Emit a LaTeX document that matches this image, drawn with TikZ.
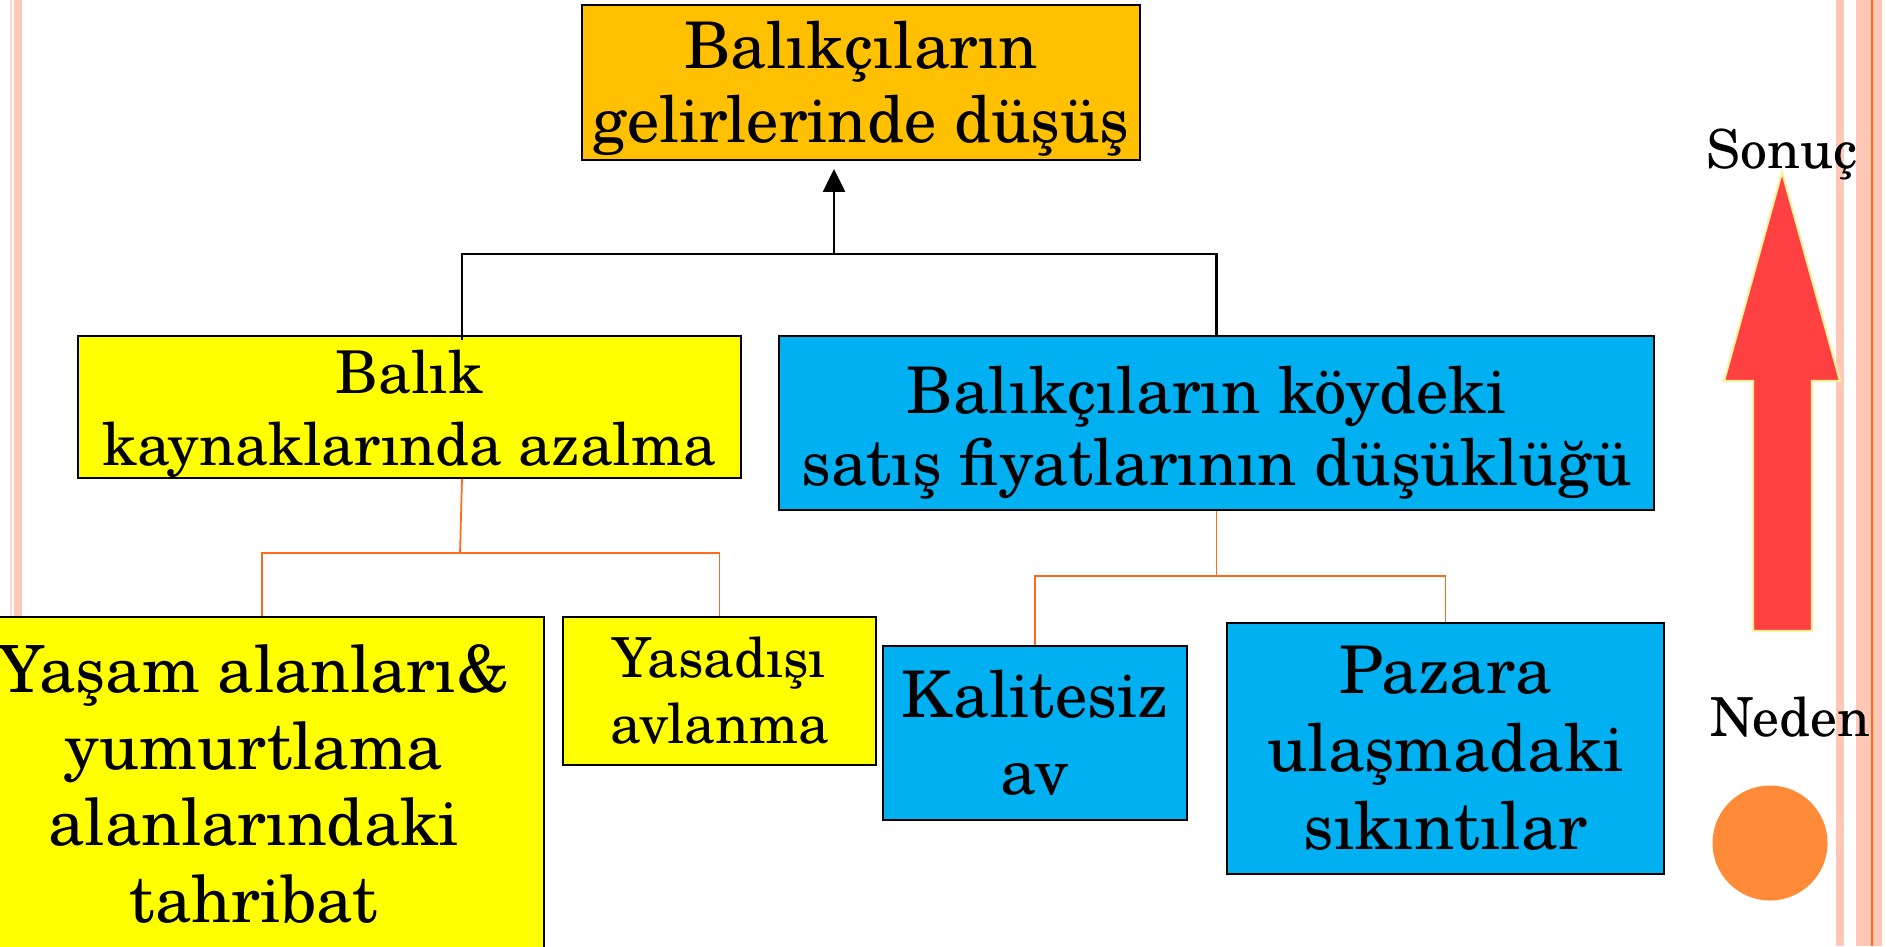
\documentclass[tikz,border=0pt]{standalone}
\usepackage{fontspec}
\setmainfont{TeX Gyre Schola}
\usepackage{tikz}
\usetikzlibrary{arrows.meta}

\definecolor{turuncu}{HTML}{FFC000}
\definecolor{sari}{HTML}{FFFF00}
\definecolor{mavi}{HTML}{00B0F0}
\definecolor{kiremit}{HTML}{FF6A1A}
\definecolor{somon}{HTML}{FFC8B6}
\definecolor{kirmizi}{HTML}{FF4040}
\definecolor{soluk}{HTML}{FFF0A0}
\definecolor{portakal}{HTML}{FF8A38}

% ilk satiri biraz asagi iter
\newcommand{\ustbosluk}[1]{\rule{0pt}{#1}}

\tikzset{
  kutu/.style={draw=black, line width=0.55pt, inner sep=0pt, align=center},
  bag/.style={black, line width=0.7pt},
  kol/.style={kiremit, line width=0.5pt},
}

\begin{document}
\begin{tikzpicture}
            \useasboundingbox (0,0) rectangle (18.86,-9.46);

            % kenar seritleri
            \fill[somon!70] (0.10,0) rectangle (0.12,-9.46);
            \fill[somon] (0.14,0) rectangle (0.22,-9.46);
            \fill[somon] (18.36,0) rectangle (18.44,-9.46);
            \fill[somon] (18.56,0) rectangle (18.82,-9.46);
            \draw[kiremit, line width=0.6pt] (18.72,0) -- (18.72,-9.46);

            % sonuc
            \node[kutu, fill=turuncu, minimum width=5.58cm, minimum height=1.55cm,
              font=\fontsize{18.3}{21}\selectfont] (sonuc) at (8.61,-0.825)
              {\ustbosluk{17pt}Balıkçıların\\gelirlerinde düşüş};

            % nedenler
            \node[kutu, fill=sari, minimum width=6.63cm, minimum height=1.42cm,
              font=\fontsize{16.8}{20.5}\selectfont] (balik) at (4.095,-4.07)
              {\ustbosluk{16pt}Balık\\kaynaklarında azalma};
            \node[kutu, fill=mavi, minimum width=8.75cm, minimum height=1.74cm,
              font=\fontsize{18.3}{20.5}\selectfont] (fiyat) at (12.165,-4.23)
              {\ustbosluk{19pt}Balıkçıların köydeki\hspace*{0.3em}\\satış fiyatlarının düşüklüğü};

            % alt nedenler
            \node[kutu, fill=sari, minimum width=5.80cm, minimum height=3.34cm,
              font=\fontsize{18.5}{21.8}\selectfont] (yasam) at (2.54,-7.84)
              {Yaşam alanları\&\\yumurtlama\\alanlarındaki\\tahribat};
            \node[kutu, fill=sari, minimum width=3.13cm, minimum height=1.48cm,
              font=\fontsize{15.7}{18.8}\selectfont] (yasadisi) at (7.195,-6.91)
              {Yasadışı\\avlanma};
            \node[kutu, fill=mavi, minimum width=3.04cm, minimum height=1.74cm,
              font=\fontsize{18.3}{22}\selectfont] (kalite) at (10.35,-7.33)
              {Kalitesiz\\av};
            \node[kutu, fill=mavi, minimum width=4.37cm, minimum height=2.51cm,
              font=\fontsize{18.7}{22.2}\selectfont] (pazar) at (14.455,-7.485)
              {Pazara\\ulaşmadaki\\sıkıntılar};

            % siyah baglar
            \coordinate (b1) at (4.62,-2.54);
            \coordinate (b2) at (8.34,-2.54);
            \draw[bag] ([yshift=-0.05cm]balik.north -| b1) -- (b1) -- (b2) -| (fiyat.north);
            \draw[bag, -{Triangle[length=0.23cm, width=0.22cm]}, shorten >=0.08cm]
              (b2) -- (b2 |- sonuc.south);

            % turuncu baglar
            \coordinate (o1) at (4.60,-5.53);
            \coordinate (o2) at (2.62,-5.53);
            \coordinate (o3) at (7.195,-5.53);
            \draw[kol] (balik.south -| b1) -- (o1);
            \draw[kol] (yasam.north -| o2) -- (o2) -- (o3) -- (yasadisi.north);
            \coordinate (o4) at (12.165,-5.76);
            \draw[kol] (fiyat.south) -- (o4);
            \draw[kol] (kalite.north) |- (o4) -| (pazar.north);

            % sag taraf
            \node[anchor=base, font=\fontsize{15.3}{18}\selectfont] (sonuclbl) at (17.82,-1.68) {Sonuç};
            \filldraw[fill=kirmizi, draw=soluk, line width=0.6pt]
              (17.82,-1.72) -- (18.40,-3.81) -- (18.12,-3.81) -- (18.12,-6.31)
              -- (17.53,-6.31) -- (17.53,-3.81) -- (17.24,-3.81) -- cycle;
            \node[anchor=base, font=\fontsize{15.3}{18}\selectfont] (nedenlbl) at (17.90,-7.36) {Neden};
            \fill[portakal] (17.70,-8.43) circle (0.575);

          \end{tikzpicture}
\end{document}
